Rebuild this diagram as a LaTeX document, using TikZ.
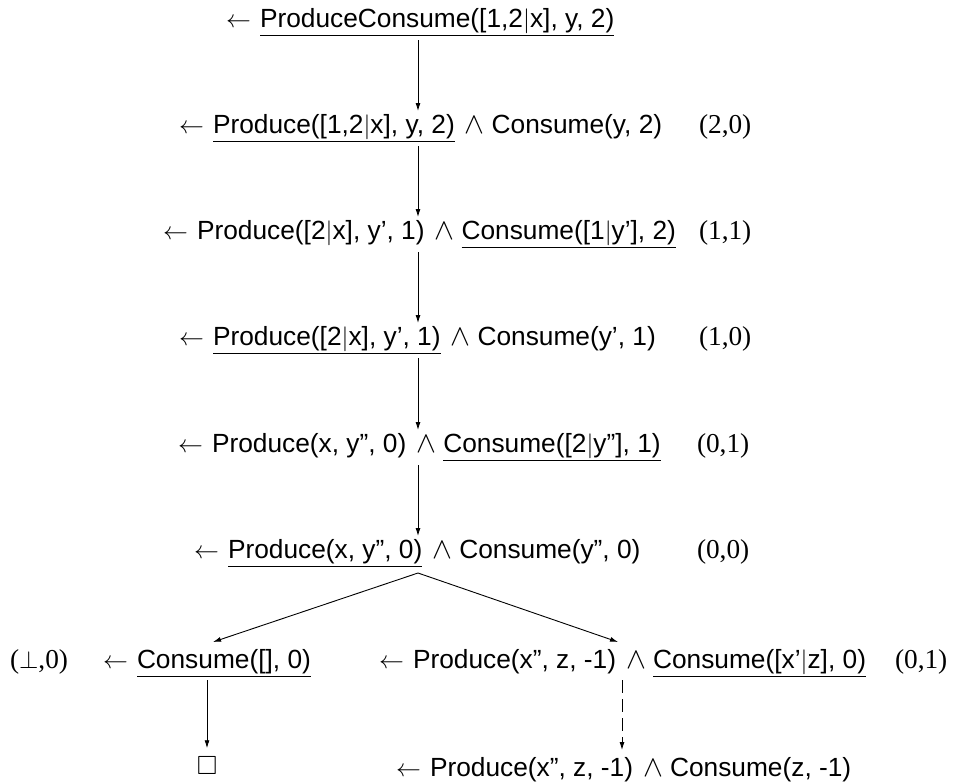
\documentclass[tikz,border=0pt]{standalone}
\usepackage{amssymb}
\usepackage{graphicx}
\usepackage{fontspec}
\setmainfont{Liberation Sans}
\newfontfamily\labfont{Liberation Serif}
\usetikzlibrary{arrows.meta}
\newcommand{\myand}{\scalebox{1.2}{$\wedge$}}
\begin{document}
\begin{tikzpicture}[x=1pt,y=-1pt,
  every node/.style={inner sep=0pt, outer sep=0pt, font=\fontsize{26.3}{30}\selectfont},
  txt/.style={anchor=base west, text height=19pt, text depth=6pt},
  larr/.style={anchor=base east},
  wedge/.style={anchor=base west},
  lab/.style={anchor=base west, font=\labfont\fontsize{27.3}{30}\selectfont},
  ul/.style={line width=0.9pt},
  arr/.style={line width=0.9pt, -{Latex[length=8pt,width=5pt]}},
  darr/.style={arr, dash pattern=on 13pt off 6pt}
]
\useasboundingbox (0,0) rectangle (953,782);
\coordinate (ax) at (418,0);
\coordinate (bl) at (213,0);
\coordinate (br) at (618,0);
\coordinate (dx) at (622,0);

% Row 1
\node[txt] (r1a) at (260,27) {ProduceConsume([1,2$|$x], y, 2)};
\node[larr] (r1l) at ([xshift=-9pt]r1a.base west) {$\leftarrow$};
\draw[ul] ([yshift=-2pt]r1a.south west) -- ([yshift=-2pt]r1a.south east);

% Row 2
\node[txt] (r2a) at (213,133) {Produce([1,2$|$x], y, 2)};
\node[larr] (r2l) at ([xshift=-9pt]r2a.base west) {$\leftarrow$};
\node[wedge] (r2w) at ([xshift=10pt]r2a.base east) {\myand};
\node[txt] (r2b) at ([xshift=7pt]r2w.base east) {Consume(y, 2)};
\node[lab] (r2c) at (699,133) {(2,0)};
\draw[ul] ([yshift=-2pt]r2a.south west) -- ([yshift=-2pt]r2a.south east);

% Row 3
\node[txt] (r3a) at (197,239) {Produce([2$|$x], y’, 1)};
\node[larr] (r3l) at ([xshift=-9pt]r3a.base west) {$\leftarrow$};
\node[wedge] (r3w) at ([xshift=10pt]r3a.base east) {\myand};
\node[txt] (r3b) at ([xshift=7pt]r3w.base east) {Consume([1$|$y’], 2)};
\node[lab] (r3c) at (699,239) {(1,1)};
\draw[ul] ([yshift=-2pt]r3b.south west) -- ([yshift=-2pt]r3b.south east);

% Row 4
\node[txt] (r4a) at (213,345) {Produce([2$|$x], y’, 1)};
\node[larr] (r4l) at ([xshift=-9pt]r4a.base west) {$\leftarrow$};
\node[wedge] (r4w) at ([xshift=10pt]r4a.base east) {\myand};
\node[txt] (r4b) at ([xshift=7pt]r4w.base east) {Consume(y’, 1)};
\node[lab] (r4c) at (699,345) {(1,0)};
\draw[ul] ([yshift=-2pt]r4a.south west) -- ([yshift=-2pt]r4a.south east);

% Row 5
\node[txt] (r5a) at (212,452) {Produce(x, y”, 0)};
\node[larr] (r5l) at ([xshift=-9pt]r5a.base west) {$\leftarrow$};
\node[wedge] (r5w) at ([xshift=10pt]r5a.base east) {\myand};
\node[txt] (r5b) at ([xshift=7pt]r5w.base east) {Consume([2$|$y”], 1)};
\node[lab] (r5c) at (697,452) {(0,1)};
\draw[ul] ([yshift=-2pt]r5b.south west) -- ([yshift=-2pt]r5b.south east);

% Row 6
\node[txt] (r6a) at (228,558) {Produce(x, y”, 0)};
\node[larr] (r6l) at ([xshift=-9pt]r6a.base west) {$\leftarrow$};
\node[wedge] (r6w) at ([xshift=10pt]r6a.base east) {\myand};
\node[txt] (r6b) at ([xshift=7pt]r6w.base east) {Consume(y”, 0)};
\node[lab] (r6c) at (697,558) {(0,0)};
\draw[ul] ([yshift=-2pt]r6a.south west) -- ([yshift=-2pt]r6a.south east);

% Row 7 left
\node[txt] (r7a) at (137,668) {Consume([], 0)};
\node[larr] (r7l) at ([xshift=-9pt]r7a.base west) {$\leftarrow$};
\node[lab] (r7b) at (10,668) {($\perp$,0)};
\draw[ul] ([yshift=-2pt]r7a.south west) -- ([yshift=-2pt]r7a.south east);

% Row 7 right
\node[txt] (r7c) at (413,668) {Produce(x”, z, -1)};
\node[larr] (r7r) at ([xshift=-9pt]r7c.base west) {$\leftarrow$};
\node[wedge] (r7w) at ([xshift=10pt]r7c.base east) {\myand};
\node[txt] (r7d) at ([xshift=7pt]r7w.base east) {Consume([x’$|$z], 0)};
\node[lab] (r7e) at (895,668) {(0,1)};
\draw[ul] ([yshift=-2pt]r7d.south west) -- ([yshift=-2pt]r7d.south east);

% Row 8
\node[anchor=base] (box) at (207,774) {$\square$};
\node[txt] (r8a) at (430,776) {Produce(x”, z, -1)};
\node[larr] (r8l) at ([xshift=-9pt]r8a.base west) {$\leftarrow$};
\node[wedge] (r8w) at ([xshift=10pt]r8a.base east) {\myand};
\node[txt] (r8b) at ([xshift=7pt]r8w.base east) {Consume(z, -1)};

% Connectors
\draw[arr] ([yshift=-7pt]r1a.south -| ax) -- ([yshift=3pt]r2a.north -| ax);
\draw[arr] ([yshift=-7pt]r2a.south -| ax) -- ([yshift=3pt]r3a.north -| ax);
\draw[arr] ([yshift=-7pt]r3a.south -| ax) -- ([yshift=3pt]r4a.north -| ax);
\draw[arr] ([yshift=-7pt]r4a.south -| ax) -- ([yshift=3pt]r5a.north -| ax);
\draw[arr] ([yshift=-7pt]r5a.south -| ax) -- ([yshift=3pt]r6a.north -| ax);
\draw[arr] ([yshift=-9pt]r6a.south -| ax) -- ([yshift=7pt]r7a.north -| bl);
\draw[arr] ([yshift=-9pt]r6a.south -| ax) -- ([yshift=7pt]r7c.north -| br);
\draw[arr] ([yshift=-6pt]r7a.south -| box) -- ([yshift=8pt]box.north);
\draw[darr] ([yshift=-6pt]r7c.south -| dx) -- ([yshift=7pt]r8a.north -| dx);
\end{tikzpicture}
\end{document}
